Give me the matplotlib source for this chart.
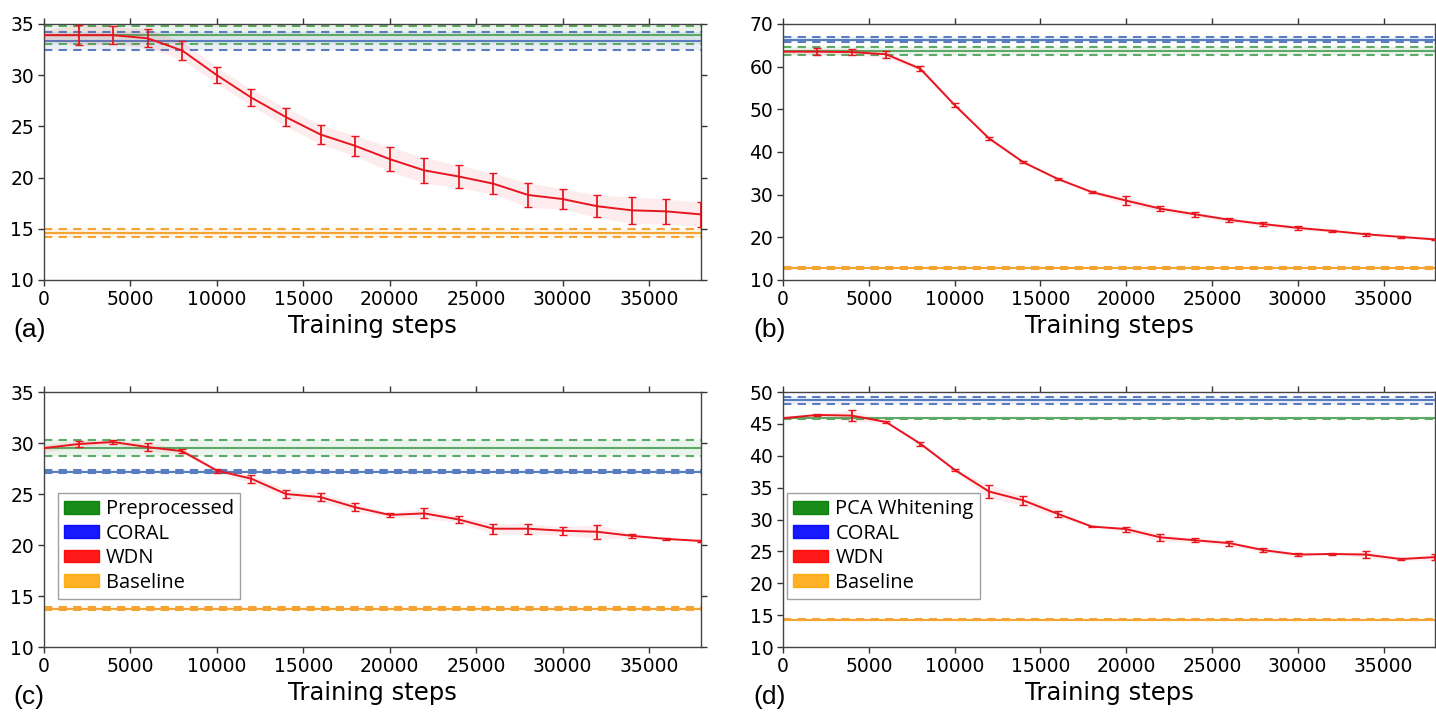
import matplotlib
matplotlib.use("Agg")
import matplotlib.pyplot as plt
from matplotlib.patches import Patch
from matplotlib import font_manager

# training steps (x axis)
steps = [0, 2000, 4000, 6000, 8000, 10000, 12000, 14000, 16000, 18000,
         20000, 22000, 24000, 26000, 28000, 30000, 32000, 34000, 36000, 38000]

# WDN curves (mean, std)
a_wdn = [33.9, 33.9, 33.9, 33.6, 32.4, 30.0, 27.8, 25.9, 24.2, 23.1,
         21.8, 20.7, 20.1, 19.4, 18.3, 17.9, 17.2, 16.8, 16.7, 16.4]
a_err = [0.5, 1.0, 0.9, 0.9, 0.9, 0.8, 0.8, 0.9, 0.95, 1.0,
         1.2, 1.25, 1.1, 1.0, 1.2, 1.0, 1.1, 1.3, 1.2, 1.2]

b_wdn = [63.5, 63.5, 63.4, 62.9, 59.5, 51.0, 43.2, 37.6, 33.7, 30.6,
         28.6, 26.7, 25.4, 24.1, 23.1, 22.2, 21.5, 20.7, 20.1, 19.5]
b_err = [0.5, 0.8, 0.7, 0.8, 0.6, 0.5, 0.4, 0.3, 0.3, 0.3,
         1.0, 0.6, 0.6, 0.5, 0.5, 0.5, 0.3, 0.3, 0.2, 0.2]

c_wdn = [29.5, 29.9, 30.1, 29.6, 29.2, 27.3, 26.5, 25.0, 24.7, 23.7,
         22.95, 23.1, 22.5, 21.6, 21.6, 21.4, 21.3, 20.9, 20.6, 20.4]
c_err = [0.4, 0.3, 0.2, 0.4, 0.2, 0.2, 0.4, 0.4, 0.4, 0.4,
         0.2, 0.5, 0.3, 0.5, 0.5, 0.4, 0.7, 0.2, 0.1, 0.1]

d_wdn = [45.9, 46.4, 46.3, 45.3, 41.9, 37.8, 34.4, 33.0, 30.9, 28.9,
         28.5, 27.2, 26.75, 26.3, 25.2, 24.5, 24.6, 24.5, 23.8, 24.1]
d_err = [0.3, 0.2, 0.8, 0.2, 0.3, 0.2, 1.0, 0.75, 0.5, 0.1,
         0.4, 0.6, 0.3, 0.4, 0.3, 0.3, 0.1, 0.5, 0.2, 0.5]

# constant reference methods: (mean, std)
a_pre, a_coral, a_base = (33.9, 0.9), (33.3, 0.875), (14.6, 0.4)
b_pre, b_coral, b_base = (63.6, 0.9), (66.35, 0.65), (12.75, 0.2)
c_pre, c_coral, c_base = (29.5, 0.8), (27.2, 0.15), (13.75, 0.15)
d_pca, d_coral, d_base = (45.86, 0.12), (48.7, 0.55), (14.3, 0.12)

a_yticks = [10, 15, 20, 25, 30, 35]
b_yticks = [10, 20, 30, 40, 50, 60, 70]
c_yticks = [10, 15, 20, 25, 30, 35]
d_yticks = [10, 15, 20, 25, 30, 35, 40, 45, 50]
xticks = [0, 5000, 10000, 15000, 20000, 25000, 30000, 35000]

names = {f.name for f in font_manager.fontManager.ttflist}
tick_font = "Liberation Sans Narrow" if "Liberation Sans Narrow" in names else "DejaVu Sans"

GREEN = "#5caa66"
BLUE = "#5a7dbf"
ORANGE = "#f4a433"
RED = "#e8141e"


def band(ax, stat, color):
    m, s = stat
    ax.axhspan(m - s, m + s, color=color, alpha=0.12, lw=0, zorder=1)
    ax.axhline(m, color=color, lw=1.5, zorder=2)
    ax.axhline(m - s, color=color, lw=1.5, ls=(0, (4, 3)), zorder=2)
    ax.axhline(m + s, color=color, lw=1.5, ls=(0, (4, 3)), zorder=2)


def panel(ax, wdn, err, pre, coral, base, yticks, tag, legend_label=None, legend_x=0.02):
    band(ax, pre, GREEN)
    band(ax, coral, BLUE)
    band(ax, base, ORANGE)
    lo = [m - e for m, e in zip(wdn, err)]
    hi = [m + e for m, e in zip(wdn, err)]
    ax.fill_between(steps, lo, hi, color=RED, alpha=0.08, lw=0, zorder=3)
    ax.plot(steps, wdn, color=RED, lw=1.4, zorder=4)
    ax.errorbar(steps[1:], wdn[1:], yerr=err[1:], fmt="none", ecolor=RED,
                elinewidth=1.3, capsize=3, capthick=1.0, zorder=4)

    ax.set_xlim(0, 38000)
    ax.set_ylim(yticks[0], yticks[-1])
    ax.set_xticks(xticks)
    ax.set_yticks(yticks)
    ax.tick_params(direction="out", length=4, width=1, colors="#333333",
                   top=True, right=True, labelsize=13.5, pad=3)
    for lab in ax.get_xticklabels() + ax.get_yticklabels():
        lab.set_fontfamily(tick_font)
        lab.set_color("black")
    for sp in ax.spines.values():
        sp.set_color("#444444")
        sp.set_linewidth(1.0)
    ax.set_xlabel("Training steps", fontsize=17.5, family="DejaVu Sans", labelpad=4)
    ax.text(-0.046, -0.195, tag, transform=ax.transAxes, fontsize=19,
            family="Liberation Sans", ha="left", va="center")

    if legend_label:
        handles = [Patch(color="green", alpha=0.9, label=legend_label),
                   Patch(color="blue", alpha=0.9, label="CORAL"),
                   Patch(color="red", alpha=0.9, label="WDN"),
                   Patch(color="orange", alpha=0.85, label="Baseline")]
        leg = ax.legend(handles=handles, loc="lower left", bbox_to_anchor=(legend_x, 0.19),
                        prop={"family": "Open Sans", "size": 14.5}, frameon=True,
                        fancybox=False, borderpad=0.3, labelspacing=0.22,
                        handlelength=1.75, handleheight=0.6, handletextpad=0.35,
                        borderaxespad=0)
        leg.get_frame().set_edgecolor("#888888")
        leg.get_frame().set_linewidth(1.0)


fig = plt.figure(figsize=(14.36, 7.21), dpi=100)
ax_a = fig.add_axes([0.0306, 0.6117, 0.4575, 0.3551])
ax_b = fig.add_axes([0.5453, 0.6117, 0.4540, 0.3551])
ax_c = fig.add_axes([0.0306, 0.1026, 0.4575, 0.3537])
ax_d = fig.add_axes([0.5453, 0.1026, 0.4540, 0.3537])

panel(ax_a, a_wdn, a_err, a_pre, a_coral, a_base, a_yticks, "(a)")
panel(ax_b, b_wdn, b_err, b_pre, b_coral, b_base, b_yticks, "(b)")
panel(ax_c, c_wdn, c_err, c_pre, c_coral, c_base, c_yticks, "(c)", "Preprocessed", 0.021)
panel(ax_d, d_wdn, d_err, d_pca, d_coral, d_base, d_yticks, "(d)", "PCA Whitening", 0.006)

fig.savefig("out.png", dpi=100)
